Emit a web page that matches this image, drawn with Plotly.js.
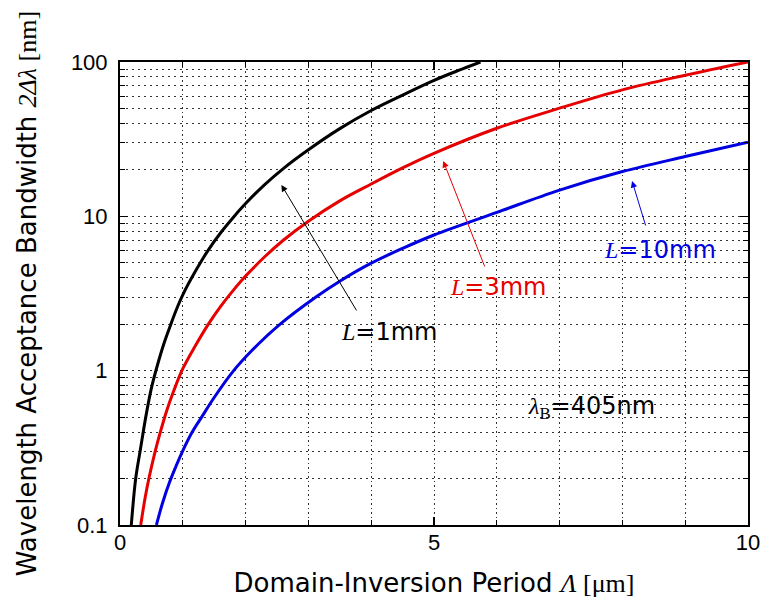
<!DOCTYPE html>
<html>
<head>
<meta charset="utf-8">
<script src="https://cdn.plot.ly/plotly-3.0.1.min.js"></script>
<style>html,body{margin:0;padding:0;background:#fff;}#chart{width:763px;height:606px;}</style>
</head>
<body>
<div id="chart"></div>
<script>
// Domain-inversion period (um) and bandwidth 2Δλ (nm)
const x_L1mm = [0.18, 0.25, 0.32, 0.41, 0.5, 0.6, 0.7, 0.8, 0.9, 1.0, 1.2, 1.4, 1.6, 1.8, 2.0, 2.3, 2.6, 3.0, 3.5, 4.0, 4.5, 5.0, 5.4, 5.74];
const y_L1mm = [0.1, 0.2, 0.3, 0.5, 0.77, 1.1, 1.5, 1.95, 2.5, 3.1, 4.4, 6.0, 7.8, 9.8, 12.1, 16, 20.4, 27, 37, 48.5, 61, 76, 88.5, 100];
const x_L3mm = [0.33, 0.4, 0.46, 0.56, 0.65, 0.75, 0.85, 1.0, 1.2, 1.4, 1.6, 1.8, 2.0, 2.3, 2.6, 3.0, 3.5, 4.0, 4.5, 5.0, 6.0, 7.0, 8.0, 9.0, 10.0];
const y_L3mm = [0.1, 0.15, 0.2, 0.3, 0.41, 0.56, 0.73, 1.03, 1.45, 1.98, 2.6, 3.3, 4.1, 5.45, 7.0, 9.3, 12.6, 16.2, 20.6, 25.6, 37.2, 50.2, 66, 82, 100];
const x_L10mm = [0.58, 0.68, 0.79, 0.9, 0.99, 1.15, 1.3, 1.5, 1.81, 2.1, 2.55, 3.12, 3.5, 4.0, 4.5, 5.0, 6.0, 7.0, 8.0, 9.0, 10.0];
const y_L10mm = [0.1, 0.14, 0.19, 0.245, 0.297, 0.4, 0.5, 0.67, 1.0, 1.35, 2.0, 3.0, 3.8, 4.97, 6.2, 7.57, 10.6, 14.8, 19.5, 24.4, 30.2];

const xTickVals = [0, 5, 10];
const xTickText = ['0', '5', '10'];
const xMinorVals = [1, 2, 3, 4, 6, 7, 8, 9];
const yTickVals = [0.1, 1, 10, 100];
const yTickText = ['0.1', '1', '10', '100'];
const yMinorVals = [0.2,0.3,0.4,0.5,0.6,0.7,0.8,0.9, 2,3,4,5,6,7,8,9, 20,30,40,50,60,70,80,90];

const sans = 'Liberation Sans, Arial, sans-serif';
const wide = 'DejaVu Sans, Verdana, sans-serif';

const mk = (x, y, c) => ({x: x, y: y, type: 'scatter', mode: 'lines',
  line: {color: c, width: 3, shape: 'spline', smoothing: 1}, hoverinfo: 'skip', showlegend: false});

const data = [
  mk(x_L1mm, y_L1mm, '#000000'),
  mk(x_L3mm, y_L3mm, '#e60000'),
  mk(x_L10mm, y_L10mm, '#0000e0')
];

const gridc = '#333333';
const Lspan = '<span style="font-family:Liberation Serif"><i>L</i></span>';
const layout = {
  width: 763, height: 606,
  margin: {l: 120, r: 15, t: 62, b: 81},
  paper_bgcolor: '#fff', plot_bgcolor: '#fff',
  font: {family: sans, size: 21, color: '#000'},
  showlegend: false,
  xaxis: {
    range: [0, 10], tickvals: xTickVals, ticktext: xTickText,
    ticks: 'inside', ticklen: 8, tickwidth: 1.5, tickcolor: '#000',
    showline: true, linecolor: '#000', linewidth: 2, mirror: 'ticks',
    showgrid: true, gridcolor: gridc, gridwidth: 1, griddash: '1.5px,3px',
    zeroline: false, ticklabelstandoff: -3,
    tickfont: {family: sans, size: 22},
    minor: {tickvals: xMinorVals, ticks: 'inside', ticklen: 5, tickwidth: 1, tickcolor: '#000',
            showgrid: true, gridcolor: gridc, gridwidth: 1, griddash: '1.5px,3px'},
    title: {text: 'Domain-Inversion Period <span style="font-family:Liberation Serif"><i>Λ</i> [μm]</span>',
            font: {family: wide, size: 26}, standoff: 19}
  },
  yaxis: {
    type: 'log', range: [-1, 2], tickvals: yTickVals, ticktext: yTickText,
    ticks: 'inside', ticklen: 8, tickwidth: 1.5, tickcolor: '#000',
    showline: true, linecolor: '#000', linewidth: 2, mirror: 'ticks',
    showgrid: true, gridcolor: gridc, gridwidth: 1, griddash: '2px,4px',
    zeroline: false, ticklabelstandoff: 6,
    tickfont: {family: sans, size: 22},
    minor: {tickvals: yMinorVals, ticks: 'inside', ticklen: 5, tickwidth: 1, tickcolor: '#000',
            showgrid: true, gridcolor: gridc, gridwidth: 1, griddash: '2px,4px'},
    title: {text: 'Wavelength Acceptance Bandwidth <span style="font-family:Liberation Serif"><i>2Δλ</i> [nm]</span>',
            font: {family: wide, size: 26}, standoff: 27}
  },
  annotations: [
    {x: 2.57, y: 1.2035, xref: 'x', yref: 'y', ax: 76, ay: 127, text: '', showarrow: true,
     arrowhead: 2, arrowsize: 1.3, arrowwidth: 1, arrowcolor: '#000'},
    {x: 5.147, y: 1.359, xref: 'x', yref: 'y', ax: 42, ay: 107, text: '', showarrow: true,
     arrowhead: 2, arrowsize: 1.3, arrowwidth: 1, arrowcolor: '#e60000'},
    {x: 8.154, y: 1.229, xref: 'x', yref: 'y', ax: 14, ay: 46, text: '', showarrow: true,
     arrowhead: 2, arrowsize: 1.3, arrowwidth: 1, arrowcolor: '#0000e0'},
    {x: 4.288, y: 0.2508, xref: 'x', yref: 'y', showarrow: false,
     text: Lspan + '=1mm', font: {family: wide, size: 24, color: '#000'}},
    {x: 6.034, y: 0.5425, xref: 'x', yref: 'y', showarrow: false,
     text: Lspan + '=3mm', font: {family: wide, size: 24, color: '#e60000'}},
    {x: 8.6, y: 0.782, xref: 'x', yref: 'y', showarrow: false,
     text: Lspan + '=10mm', font: {family: wide, size: 24, color: '#0000e0'}},
    {x: 7.5, y: -0.2417, xref: 'x', yref: 'y', showarrow: false,
     text: '<span style="font-family:Liberation Serif"><i>λ</i><sub>B</sub></span>=405nm',
     font: {family: wide, size: 24, color: '#000'}}
  ]
};

Plotly.newPlot('chart', data, layout, {displayModeBar: false, staticPlot: true});
</script>
</body>
</html>
